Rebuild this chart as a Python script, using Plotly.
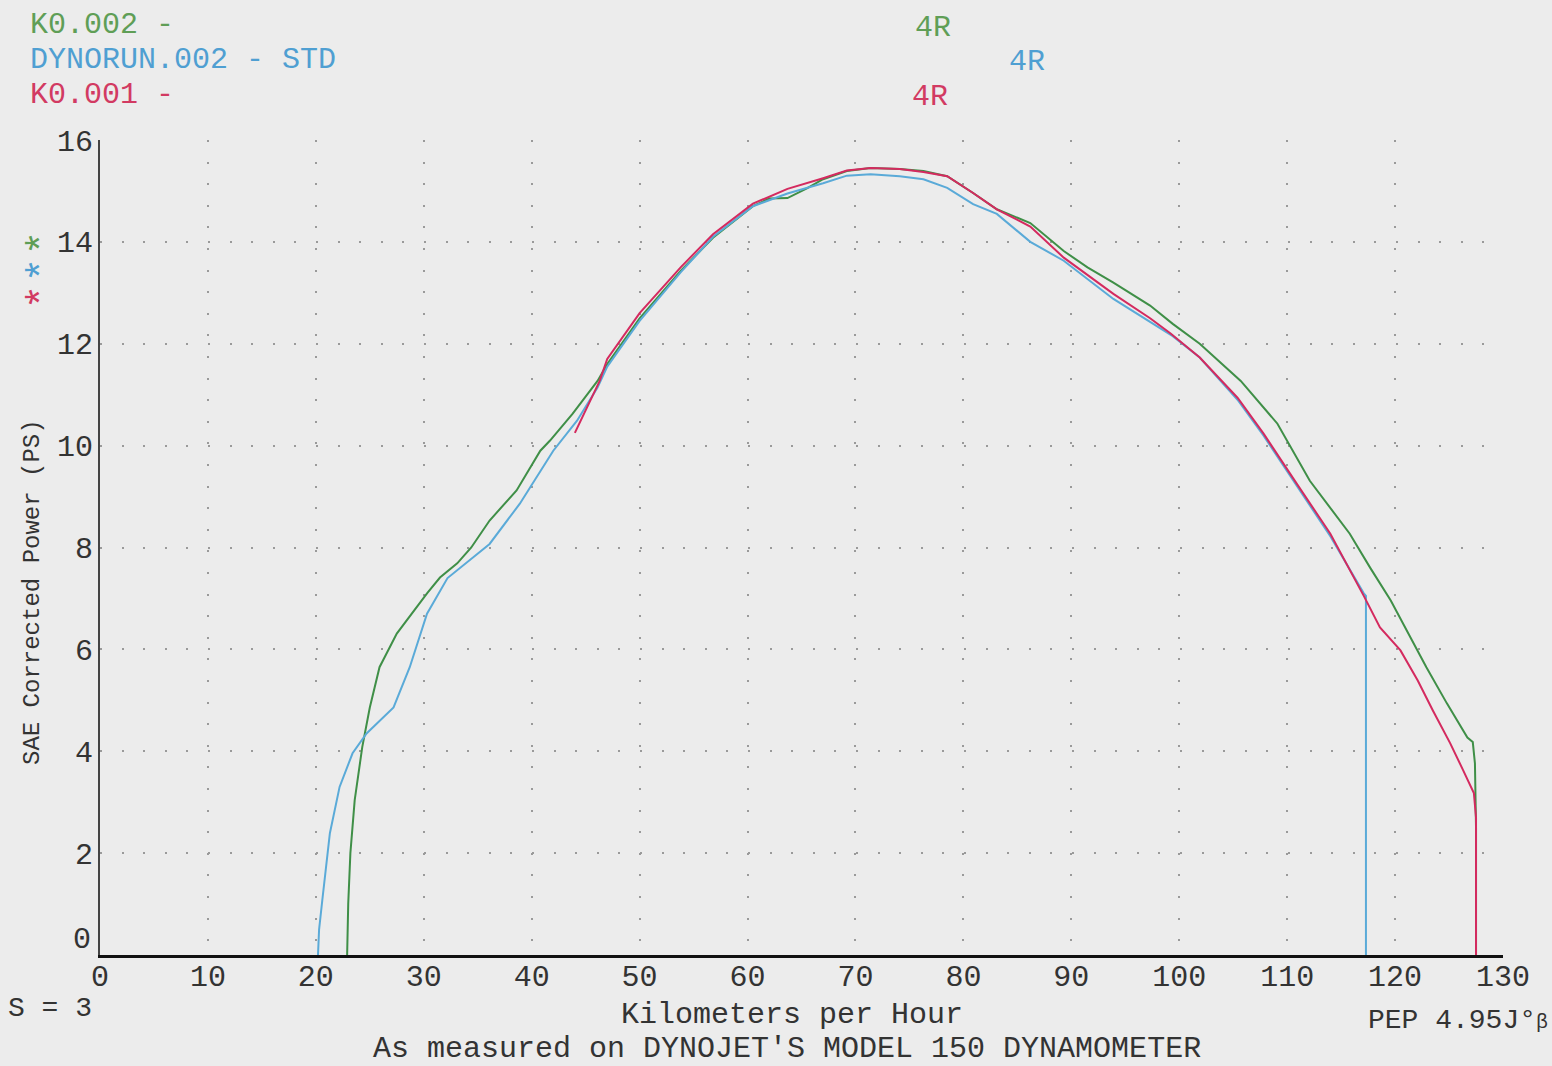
import plotly.graph_objects as go

# ---------------- data (read from the dyno sheet) ----------------
green_label = "K0.002 -"
blue_label = "DYNORUN.002 - STD"
red_label = "K0.001 -"

green_kmh = [22.9, 23.0, 23.2, 23.6, 24.3, 25.0, 25.9, 27.5, 30.3, 31.5, 33.1, 34.4, 36.1,
             38.6, 40.8, 41.7, 43.8, 46.1, 47.0, 50.0, 53.8, 56.8, 60.5, 62.0, 63.7, 65.5,
             67.0, 69.2, 71.4, 74.1, 76.3, 78.5, 80.9, 83.1, 86.2, 89.3, 91.5, 93.9, 97.3,
             99.4, 101.9, 105.7, 109.1, 112.1, 115.8, 117.7, 119.6, 121.4, 122.9, 124.8,
             126.7, 127.2, 127.4, 127.5, 127.5]
green_ps = [0.0, 1.0, 2.0, 3.04, 4.08, 4.86, 5.65, 6.31, 7.1, 7.41, 7.69, 8.0, 8.53,
            9.12, 9.9, 10.1, 10.63, 11.27, 11.6, 12.5, 13.43, 14.08, 14.7, 14.85, 14.86, 15.05,
            15.23, 15.39, 15.45, 15.43, 15.39, 15.29, 14.96, 14.64, 14.37, 13.82, 13.5, 13.2, 12.75,
            12.39, 12.0, 11.27, 10.43, 9.31, 8.27, 7.6, 6.96, 6.24, 5.65, 4.94,
            4.27, 4.18, 3.76, 2.5, 0.0]

blue_kmh = [20.2, 20.3, 20.6, 21.3, 22.2, 23.4, 24.7, 27.2, 28.7, 30.3, 32.2, 36.1, 38.9,
            42.0, 44.2, 46.1, 47.0, 50.0, 53.8, 56.8, 60.5, 63.7, 67.0, 69.2, 71.4, 74.1,
            76.3, 78.5, 80.9, 83.1, 86.2, 89.3, 93.9, 99.4, 101.9, 105.4, 107.8, 110.9,
            114.0, 117.1, 117.3, 117.3]
blue_ps = [0.0, 0.5, 1.08, 2.39, 3.3, 3.96, 4.35, 4.86, 5.65, 6.7, 7.4, 8.07, 8.86,
           9.9, 10.49, 11.14, 11.55, 12.45, 13.4, 14.1, 14.7, 14.95, 15.15, 15.3, 15.33, 15.29,
           15.23, 15.06, 14.74, 14.55, 14.0, 13.63, 12.88, 12.15, 11.73, 10.9, 10.2, 9.2,
           8.22, 7.1, 7.05, 0.0]

red_kmh = [44.0, 46.3, 47.0, 50.0, 53.8, 56.8, 60.5, 63.7, 67.0, 69.2, 71.4, 74.1, 76.3,
           78.5, 80.9, 83.1, 86.2, 89.3, 93.9, 97.3, 99.2, 101.9, 105.4, 107.8, 110.9, 114.0,
           117.1, 118.6, 120.5, 122.1, 123.5, 125.1, 126.3, 127.3, 127.5, 127.5]
red_ps = [10.25, 11.27, 11.7, 12.6, 13.5, 14.15, 14.75, 15.04, 15.25, 15.4, 15.45, 15.43, 15.37,
          15.29, 14.96, 14.64, 14.3, 13.69, 12.98, 12.5, 12.2, 11.73, 10.94, 10.24, 9.25, 8.27,
          7.05, 6.43, 5.98, 5.39, 4.8, 4.16, 3.63, 3.18, 2.7, 0.0]

x_ticks = list(range(0, 131, 10))
y_ticks = list(range(0, 17, 2))

# ---------------- styling ----------------
GREEN = "#3f8f47"
BLUE = "#5aaad8"
RED = "#d42a5f"
GREEN_T = "#5f9e56"
BLUE_T = "#4f9fd2"
RED_T = "#d23a62"
TXT = "#333333"
FONT = "Liberation Mono"
BG = "#ececec"

W, H = 1552, 1066
L, R, T, B = 100, 49, 140, 111
PW, PH = W - L - R, H - T - B


def px(x):
    return (x - L) / PW


def py(y):
    return (H - B - y) / PH


fig = go.Figure()
fig.add_trace(go.Scatter(x=green_kmh, y=green_ps, mode="lines", name=green_label,
                         line=dict(color=GREEN, width=2)))
fig.add_trace(go.Scatter(x=blue_kmh, y=blue_ps, mode="lines", name=blue_label,
                         line=dict(color=BLUE, width=2)))
fig.add_trace(go.Scatter(x=red_kmh, y=red_ps, mode="lines", name=red_label,
                         line=dict(color=RED, width=2)))

ann = []


def add_text(text, x, y, color=TXT, size=30, xanchor="left", angle=0):
    ann.append(dict(text=text, x=px(x), y=py(y), xref="paper", yref="paper",
                    xanchor=xanchor, yanchor="middle", showarrow=False, textangle=angle,
                    font=dict(family=FONT, size=size, color=color)))


add_text(green_label, 28, 25, GREEN_T)
add_text(blue_label, 28, 60, BLUE_T)
add_text(red_label, 28, 95, RED_T)
add_text("4R", 933, 28, GREEN_T, xanchor="center")
add_text("4R", 1027, 62, BLUE_T, xanchor="center")
add_text("4R", 930, 97, RED_T, xanchor="center")
add_text("*", 44, 243, GREEN_T, size=40, xanchor="center", angle=-90)
add_text("*", 44, 270, BLUE_T, size=40, xanchor="center", angle=-90)
add_text("*", 44, 297, RED_T, size=40, xanchor="center", angle=-90)
add_text("SAE Corrected Power (PS)", 32, 592, TXT, size=24, xanchor="center", angle=-90)
add_text(str(y_ticks[0]), 93, 940, TXT, size=30, xanchor="right")
add_text("S = 3", 6, 1008, TXT, size=28)
add_text("Kilometers per Hour", 792, 1015, TXT, size=30, xanchor="center")
add_text("PEP 4.95J°<span style='font-size:20px'>β</span>", 1550, 1020, TXT, size=28,
         xanchor="right")
add_text("As measured on DYNOJET'S MODEL 150 DYNAMOMETER", 787, 1049, TXT, size=30,
         xanchor="center")

y_text = [("" if v == 0 else str(v)) for v in y_ticks]

fig.update_layout(
    width=W, height=H,
    margin=dict(l=L, r=R, t=T, b=B),
    paper_bgcolor=BG, plot_bgcolor=BG,
    showlegend=False,
    annotations=ann,
    xaxis=dict(range=[0, 130], tickvals=x_ticks, ticktext=[str(v) for v in x_ticks],
               showgrid=True, gridcolor="#9a9a9a", gridwidth=2, griddash="2px,19.6px",
               zeroline=False, showline=True, linecolor="#111111", linewidth=3,
               ticks="", ticklabelstandoff=-8,
               tickfont=dict(family=FONT, size=30, color=TXT)),
    yaxis=dict(range=[0, 16], tickvals=y_ticks, ticktext=y_text,
               showgrid=True, gridcolor="#9a9a9a", gridwidth=2, griddash="2px,19.6px",
               zeroline=False, showline=True, linecolor="#444444", linewidth=2,
               ticks="", ticklabelstandoff=-1,
               tickfont=dict(family=FONT, size=30, color=TXT)),
)

fig.write_html(
    "out.html",
    config={"displayModeBar": False},
    post_script="document.body.style.margin='0';document.body.style.overflow='hidden';"
                "document.body.style.background='" + BG + "';",
)
